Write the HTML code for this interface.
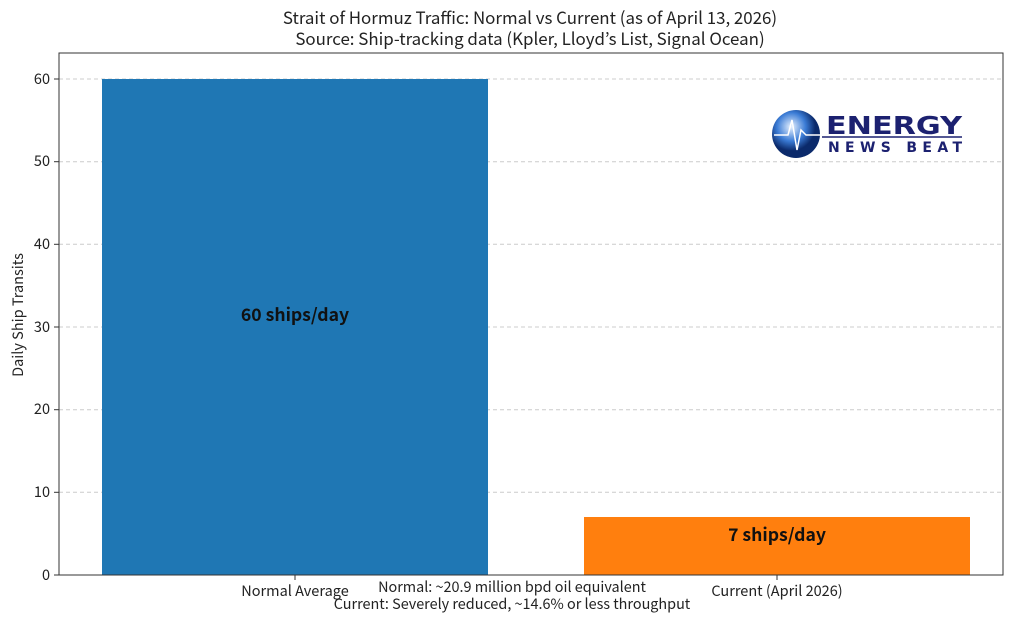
<!DOCTYPE html>
<html><head><meta charset="utf-8"><style>
body{margin:0;background:#fff;}
svg text{font-family:"Noto Sans CJK JP","Liberation Sans",sans-serif;fill:#222;}
</style></head><body>
<svg width="1024" height="614" xmlns="http://www.w3.org/2000/svg">
<rect width="1024" height="614" fill="#fff"/>
<text x="530" y="24" font-size="16.9" text-anchor="middle">Strait of Hormuz Traffic: Normal vs Current (as of April 13, 2026)</text>
<text x="530" y="45" font-size="16.9" text-anchor="middle">Source: Ship-tracking data (Kpler, Lloyd’s List, Signal Ocean)</text>
<g stroke="#ccc" stroke-dasharray="4,3" stroke-width="1">
<line x1="59" x2="1003" y1="79" y2="79"/>
<line x1="59" x2="1003" y1="161.7" y2="161.7"/>
<line x1="59" x2="1003" y1="244.3" y2="244.3"/>
<line x1="59" x2="1003" y1="327" y2="327"/>
<line x1="59" x2="1003" y1="409.7" y2="409.7"/>
<line x1="59" x2="1003" y1="492.3" y2="492.3"/>
</g>
<rect x="102" y="79" width="386" height="496" fill="#1f77b4"/>
<rect x="584" y="517" width="386" height="58" fill="#ff7f0e"/>
<rect x="59" y="53" width="944" height="522" fill="none" stroke="#333" stroke-width="1"/>
<g stroke="#333"><line x1="54" x2="59" y1="79" y2="79"/><line x1="54" x2="59" y1="161.7" y2="161.7"/><line x1="54" x2="59" y1="244.3" y2="244.3"/><line x1="54" x2="59" y1="327" y2="327"/><line x1="54" x2="59" y1="409.7" y2="409.7"/><line x1="54" x2="59" y1="492.3" y2="492.3"/><line x1="54" x2="59" y1="575" y2="575"/>
<line x1="295" x2="295" y1="575" y2="580"/><line x1="777" x2="777" y1="575" y2="580"/></g>
<g font-size="14.5" text-anchor="end"><text x="50" y="84">60</text><text x="50" y="166">50</text><text x="50" y="249">40</text><text x="50" y="332">30</text><text x="50" y="414">20</text><text x="50" y="497">10</text><text x="50" y="580">0</text></g>
<text transform="translate(23,315) rotate(-90)" font-size="14.5" text-anchor="middle">Daily Ship Transits</text>
<text x="295" y="596" font-size="14.5" text-anchor="middle">Normal Average</text>
<text x="777" y="596" font-size="14.5" text-anchor="middle">Current (April 2026)</text>
<text x="512" y="592" font-size="14.4" text-anchor="middle">Normal: ~20.9 million bpd oil equivalent</text>
<text x="512" y="609" font-size="14.4" text-anchor="middle">Current: Severely reduced, ~14.6% or less throughput</text>
<text x="295" y="321" font-size="17.6" font-weight="bold" text-anchor="middle" style="fill:#111">60 ships/day</text>
<text x="777" y="541" font-size="17.6" font-weight="bold" text-anchor="middle" style="fill:#111">7 ships/day</text>
<defs><radialGradient id="g" cx="40%" cy="35%"><stop offset="0" stop-color="#e8f2ff"/><stop offset="0.6" stop-color="#3a7bd5"/><stop offset="1" stop-color="#0b2a6b"/></radialGradient></defs>
<circle cx="796" cy="134" r="24" fill="url(#g)"/>
<polyline points="774,135 788,135 792,120 797,150 801,130 806,135 820,135" fill="none" stroke="#fff" stroke-width="1.5"/>
<text x="826" y="134" font-size="25" font-weight="bold" textLength="136" lengthAdjust="spacingAndGlyphs" style="fill:#1c2170;font-family:'DejaVu Sans',sans-serif">ENERGY</text>
<line x1="822" x2="962" y1="137" y2="137" stroke="#1c2170" stroke-width="1.5"/>
<text x="828" y="152" font-size="14" font-weight="bold" textLength="134" lengthAdjust="spacing" style="fill:#1c2170;font-family:'DejaVu Sans',sans-serif">NEWS BEAT</text>
</svg>
</body></html>
